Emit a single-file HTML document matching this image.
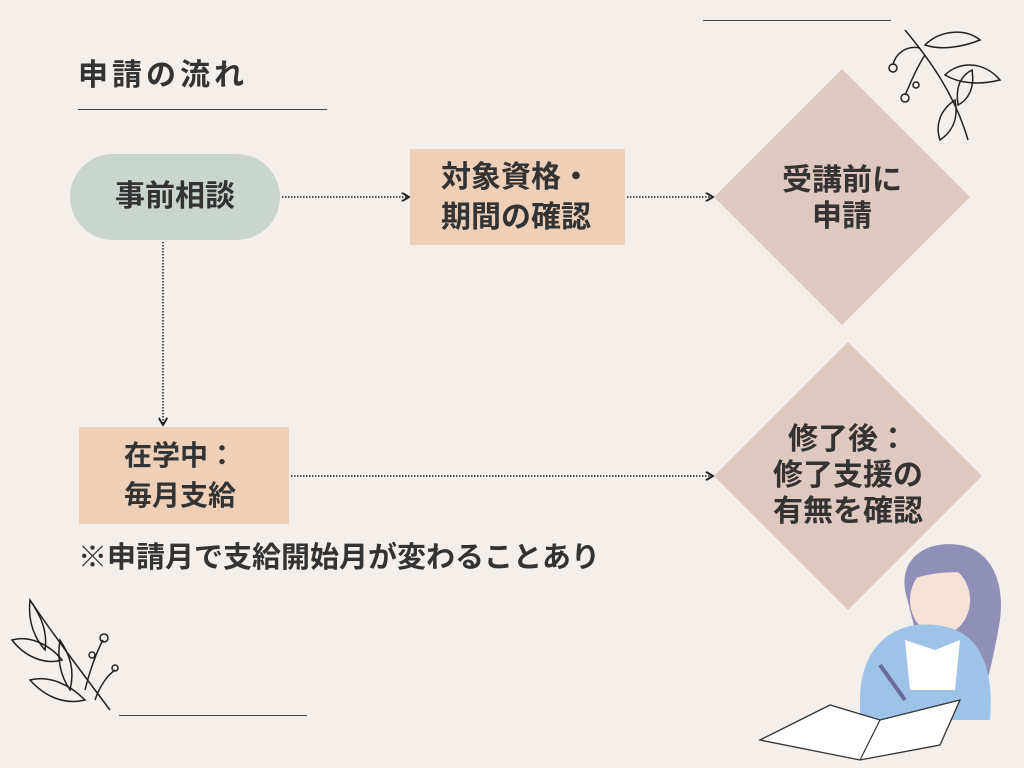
<!DOCTYPE html>
<html><head><meta charset="utf-8"><style>
body{margin:0;width:1024px;height:768px;background:#f4efea;position:relative;overflow:hidden;font-family:"Liberation Sans","Noto Sans CJK JP",sans-serif;color:#333;font-weight:bold}
.a{position:absolute}
</style></head><body>
<div class="a" style="left:78px;top:56px;font-size:30px;line-height:40px;letter-spacing:4px">申請の流れ</div>
<div class="a" style="left:78px;top:109px;width:249px;height:1px;background:#444"></div>
<div class="a" style="left:703px;top:20px;width:188px;height:1px;background:#444"></div>
<div class="a" style="left:119px;top:715px;width:188px;height:1px;background:#444"></div>

<svg class="a" style="left:0;top:0" width="1024" height="768">
<defs><marker id="m" markerWidth="6" markerHeight="6" refX="5" refY="3" orient="auto"><path d="M0,0 L5,3 L0,6" fill="none" stroke="#222" stroke-width="1.3"/></marker></defs>
<g stroke="#222" stroke-width="1.5" stroke-dasharray="1.5 1.5" fill="none" marker-end="url(#m)">
<line x1="282" y1="197" x2="409" y2="197"/>
<line x1="627" y1="197" x2="713" y2="197"/>
<line x1="163" y1="242" x2="163" y2="425"/>
<line x1="291" y1="476" x2="713" y2="476"/>
</g>
<polygon points="842,69 970,197 842,325 714,197" fill="#dfc8bf"/>
<polygon points="848,342 982,476 848,610 714,476" fill="#dfc8bf"/>
<g fill="none" stroke="#222" stroke-width="1.5">
<path d="M905,30 C930,60 955,95 968,140"/>
<path d="M925,45 C940,30 965,28 980,40 C960,48 940,50 925,45Z"/>
<path d="M945,75 C960,60 985,62 1000,80 C980,85 960,84 945,75Z"/>
<path d="M958,105 C955,85 962,75 972,70 C975,88 968,100 958,105Z"/>
<path d="M955,100 C940,110 935,125 940,140 C955,130 958,115 955,100Z"/>
<path d="M920,48 C905,45 895,55 893,65"/>
<path d="M925,55 C915,70 910,85 905,95"/>
<circle cx="893" cy="68" r="4"/><circle cx="905" cy="98" r="4"/><circle cx="916" cy="85" r="3"/>
</g>
<g fill="none" stroke="#222" stroke-width="1.5">
<path d="M30,600 C50,630 80,670 110,710"/>
<path d="M30,600 C40,615 48,630 45,650 C32,635 28,618 30,600Z"/>
<path d="M12,640 C30,635 50,645 62,660 C45,665 25,657 12,640Z"/>
<path d="M60,640 C70,655 75,670 70,690 C60,675 57,658 60,640Z"/>
<path d="M30,680 C50,675 70,685 85,700 C65,705 45,697 30,680Z"/>
<path d="M85,690 C90,670 95,655 103,640"/>
<path d="M95,700 C100,685 108,675 115,670"/>
<circle cx="104" cy="638" r="4"/><circle cx="115" cy="668" r="3"/><circle cx="92" cy="655" r="3"/>
</g>
<path d="M905,590 C900,555 930,540 960,545 C990,550 1005,580 1000,620 C995,650 990,670 985,690 L930,690 Z" fill="#8f8fb8"/>
<ellipse cx="940" cy="600" rx="30" ry="35" fill="#f6e3d6"/>
<path d="M910,580 C920,555 960,550 975,575 C960,570 930,572 910,580Z" fill="#8f8fb8"/>
<path d="M860,700 C860,650 890,620 935,625 C975,628 995,660 990,720 L860,720Z" fill="#9ec3e8"/>
<path d="M905,640 L935,650 L960,640 L955,690 L910,690Z" fill="#fff"/>
<path d="M760,740 L830,705 L880,720 L960,700 L940,745 L860,760 Z" fill="#fff" stroke="#333" stroke-width="1.3"/>
<line x1="860" y1="760" x2="880" y2="720" stroke="#333" stroke-width="1.2"/>
<line x1="880" y1="665" x2="905" y2="700" stroke="#6c6c9a" stroke-width="4"/>
</svg>

<div class="a" style="left:70px;top:154px;width:210px;height:86px;border-radius:43px;background:#cad6cd;text-align:center;line-height:86px;font-size:30px">事前相談</div>
<div class="a" style="left:410px;top:149px;width:215px;height:96px;background:#eecfb7;box-sizing:border-box;padding:9px 0 0 31px;font-size:30px;line-height:40px">対象資格・<br>期間の確認</div>
<div class="a" style="left:79px;top:427px;width:210px;height:97px;background:#eecfb7;box-sizing:border-box;padding:9px 0 0 45px;font-size:28px;line-height:40px">在学中：<br>毎月支給</div>
<div class="a" style="left:742px;top:163px;width:200px;text-align:center;font-size:30px;line-height:36px">受講前に<br>申請</div>
<div class="a" style="left:748px;top:422px;width:200px;text-align:center;font-size:30px;line-height:36px">修了後：<br>修了支援の<br>有無を確認</div>
<div class="a" style="left:78px;top:539px;font-size:29px;line-height:38px">※申請月で支給開始月が変わることあり</div>
</body></html>
